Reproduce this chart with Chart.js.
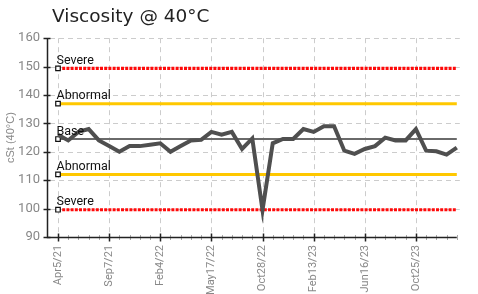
<!DOCTYPE html>
<html><head><meta charset="utf-8">
<script src="https://cdn.jsdelivr.net/npm/chart.js@4.4.1/dist/chart.umd.min.js"></script>
<style>html,body{margin:0;padding:0;background:#fff;}#wrap{width:478px;height:294px;position:relative;}</style>
</head><body><div id="wrap"><canvas id="c"></canvas></div>
<script>
const tickLabels = ['Apr5/21','Sep7/21','Feb4/22','May17/22','Oct28/22','Feb13/23','Jun16/23','Oct25/23'];
const pointsPerTick = 5;
const viscosity = [126,124,127,128,124,122,120,122,122,122.5,123,120,122,124,124.2,127,126,127,121,124.7,99.5,123,124.5,124.5,128,127,129,129,120.4,119.3,121,122,125,124,124,128,120.4,120.2,119,121.5];
const thresholdNames = ['Severe','Abnormal','Base','Abnormal','Severe'];
const thresholdValues = [149.4,136.95,124.5,112.05,99.6];
const thresholdColors = ['#ff0a0a','#ffc800','#6a6a6a','#ffc800','#ff0a0a'];
const thresholdWidths = [3.2,3,2,3,3.2];
const thresholdDash = [[3,1.2],[],[],[],[3,1.2]];
const yMin = 90, yMax = 160, yStep = 10;

const categories = viscosity.map((v,i)=> i % pointsPerTick === 0 ? tickLabels[i/pointsPerTick] : '');
const NARROW = "'Liberation Sans Narrow','Roboto','Liberation Sans',sans-serif";

const datasets = [];
datasets.push({
  label:'Viscosity', data: viscosity, borderColor:'#4f4f4f', borderWidth:4,
  pointRadius:0, tension:0, fill:false
});
thresholdValues.forEach((v,k)=>{
  datasets.push({
    label: thresholdNames[k], data: categories.map(()=>v),
    borderColor: thresholdColors[k], borderWidth: thresholdWidths[k], borderDash: thresholdDash[k],
    fill:false, borderCapStyle:'butt',
    pointStyle:'rect',
    pointRadius: c => c.dataIndex === 0 ? 3.2 : 0,
    pointHoverRadius: c => c.dataIndex === 0 ? 3.2 : 0,
    pointBackgroundColor:'#fff', pointBorderColor:'#111', pointBorderWidth:1.2
  });
});

const decor = {
  id:'decor',
  afterLayout(chart){ if(chart.titleBlock){ chart.titleBlock.left = 52; } },
  beforeDatasetsDraw(chart){
    const {ctx, chartArea:a, scales:{x,y}} = chart;
    const axisX = a.left - 11;
    ctx.save();
    ctx.strokeStyle='#cccccc'; ctx.lineWidth=1; ctx.setLineDash([5,4]);
    y.ticks.forEach(t=>{
      if(t.value===yMin) return;
      const py=Math.round(y.getPixelForValue(t.value))+0.5;
      ctx.beginPath(); ctx.moveTo(axisX+3,py); ctx.lineTo(a.right+3,py); ctx.stroke();
    });
    categories.forEach((c,i)=>{
      if(i%pointsPerTick) return;
      const px=Math.round(x.getPixelForValue(i))+0.5;
      ctx.beginPath(); ctx.moveTo(px,a.top); ctx.lineTo(px,a.bottom); ctx.stroke();
    });
    ctx.restore();
  },
  afterDatasetsDraw(chart){
    const {ctx, chartArea:a, scales:{x,y}} = chart;
    const axisX = a.left - 10.5;
    const by = Math.round(a.bottom)+0.5;
    ctx.save();
    ctx.setLineDash([]);
    ctx.strokeStyle='#aaaaaa'; ctx.lineWidth=1;
    categories.forEach((c,i)=>{
      if(i%pointsPerTick===0) return;
      const px=Math.round(x.getPixelForValue(i))+0.5;
      ctx.beginPath(); ctx.moveTo(px,by-2.5); ctx.lineTo(px,by+2.5); ctx.stroke();
    });
    ctx.strokeStyle='#222'; ctx.lineWidth=1.5;
    ctx.beginPath(); ctx.moveTo(axisX,a.top); ctx.lineTo(axisX,by); ctx.lineTo(a.right,by); ctx.stroke();
    categories.forEach((c,i)=>{
      if(i%pointsPerTick) return;
      const px=Math.round(x.getPixelForValue(i))+0.5;
      ctx.beginPath(); ctx.moveTo(px,by-4); ctx.lineTo(px,by+4); ctx.stroke();
    });
    y.ticks.forEach(t=>{
      const py=Math.round(y.getPixelForValue(t.value))+0.5;
      ctx.beginPath(); ctx.moveTo(axisX-4,py); ctx.lineTo(axisX+3,py); ctx.stroke();
    });
    ctx.fillStyle='#111'; ctx.font="12.5px "+NARROW; ctx.textAlign='left'; ctx.textBaseline='alphabetic';
    const x0 = x.getPixelForValue(0);
    thresholdValues.forEach((v,k)=>{
      ctx.fillText(thresholdNames[k], x0-1.5, y.getPixelForValue(v)-4.5);
    });
    ctx.restore();
  }
};

new Chart(document.getElementById('c'), {
  type:'line',
  data:{ labels: categories, datasets },
  options:{
    responsive:true, maintainAspectRatio:false, animation:false, devicePixelRatio:1,
    layout:{ padding:{ left:0, right:11, top:0, bottom:0 } },
    plugins:{
      legend:{ display:false }, tooltip:{ enabled:false },
      title:{ display:true, text:'Viscosity @ 40°C', align:'start', color:'#222',
        font:{ family:"'DejaVu Sans',sans-serif", size:18.5, weight:'normal' },
        padding:{ top:6, bottom:10 } }
    },
    scales:{
      x:{ type:'category', grid:{ display:false, drawTicks:false }, border:{ display:false },
        afterFit(s){ s.height = 57; },
        ticks:{ autoSkip:false, minRotation:90, maxRotation:90, padding:8, color:'#888',
          font:{ family:NARROW, size:11 },
          callback:(val,idx)=>categories[idx] } },
      y:{ min:yMin, max:yMax, grid:{ display:false, drawTicks:false }, border:{ display:false },
        afterFit(s){ s.width = 58; },
        ticks:{ stepSize:yStep, padding:18, color:'#888', font:{ family:NARROW, size:13 } },
        title:{ display:true, text:'cSt (40°C)', color:'#888', padding:{ top:4, bottom:0 },
          font:{ family:"'Liberation Sans',sans-serif", size:11 } } }
    }
  },
  plugins:[decor]
});
</script></body></html>
